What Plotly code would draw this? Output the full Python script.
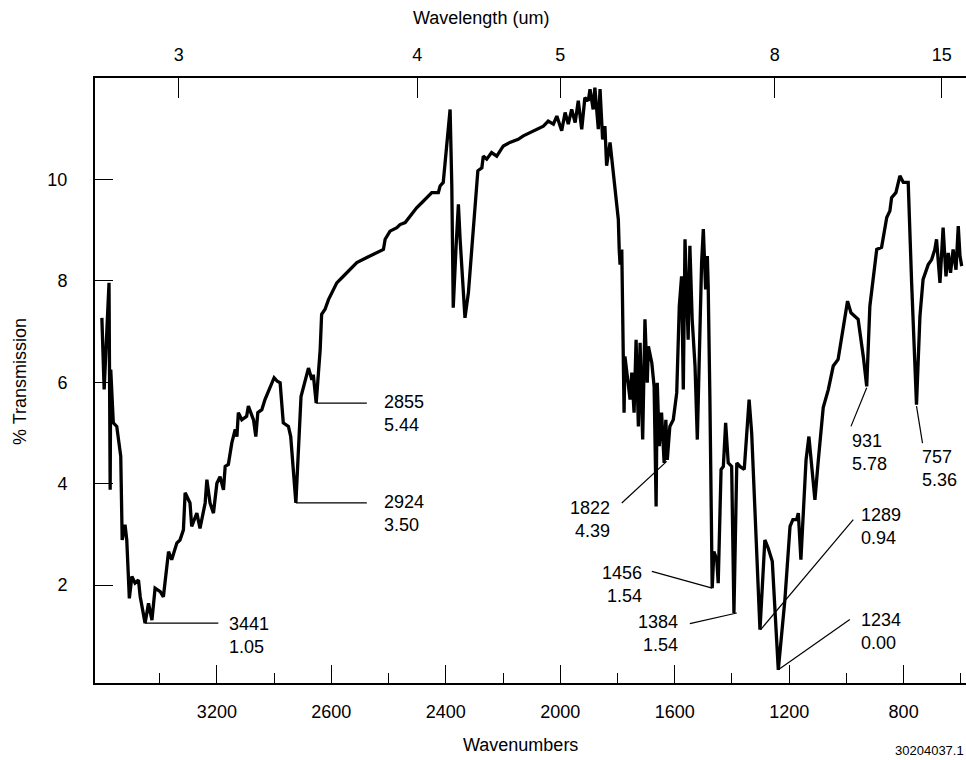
import plotly.graph_objects as go

# ---- spectrum data (wavenumber cm-1, % transmission) ----
wavenumber = [
    3602, 3594, 3577, 3573, 3571, 3562, 3550, 3536, 3531, 3521,
    3515, 3506, 3497, 3486, 3474, 3468, 3451, 3439, 3427, 3416,
    3398, 3387, 3369, 3358, 3340, 3329, 3317, 3311, 3294, 3288,
    3270, 3259, 3241, 3235, 3224, 3212, 3200, 3189, 3177, 3171,
    3160, 3148, 3136, 3130, 3125, 3113, 3096, 3090, 3072, 3064,
    3057, 3043, 3032, 3020, 3008, 3000, 2989, 2979, 2968, 2950,
    2942, 2924, 2906, 2892, 2880, 2868, 2863, 2853, 2839, 2834,
    2822, 2810, 2793, 2781, 2758, 2735, 2711, 2676, 2641, 2618,
    2612, 2595, 2571, 2560, 2542, 2525, 2502, 2484, 2467, 2449,
    2426, 2420, 2409, 2397, 2385, 2379, 2374, 2364, 2356, 2350,
    2333, 2321, 2304, 2288, 2274, 2269, 2257, 2240, 2222, 2199,
    2176, 2164, 2147, 2129, 2106, 2082, 2059, 2042, 2024, 2012,
    1995, 1983, 1972, 1960, 1948, 1937, 1925, 1914, 1902, 1896,
    1885, 1879, 1867, 1861, 1852, 1844, 1838, 1826, 1815, 1803,
    1797, 1794, 1791, 1785, 1780, 1777, 1774, 1762, 1756, 1750,
    1742, 1735, 1727, 1721, 1712, 1704, 1696, 1692, 1680, 1672,
    1665, 1661, 1654, 1646, 1637, 1631, 1626, 1617, 1605, 1593,
    1584, 1576, 1570, 1564, 1558, 1553, 1547, 1539, 1529, 1521,
    1512, 1506, 1500, 1492, 1486, 1483, 1477, 1471, 1469, 1463,
    1453, 1448, 1438, 1430, 1422, 1413, 1401, 1393, 1383, 1372,
    1357, 1340, 1331, 1302, 1285, 1274, 1259, 1238, 1215, 1197,
    1187, 1174, 1168, 1159, 1151, 1141, 1131, 1110, 1098, 1081,
    1063, 1046, 1029, 1011, 996, 984, 959, 941, 929, 918,
    906, 894, 877, 859, 848, 842, 827, 813, 801, 784,
    772, 761, 755, 743, 732, 714, 702, 691, 685, 673,
    662, 652, 644, 636, 627, 617, 609, 603, 597,
]
transmission = [
    7.27, 5.86, 7.96, 3.88, 6.25, 5.20, 5.13, 4.54, 2.89, 3.19,
    2.89, 1.74, 2.17, 2.04, 2.10, 1.77, 1.25, 1.64, 1.31, 1.94,
    1.87, 1.77, 2.66, 2.50, 2.83, 2.89, 3.09, 3.82, 3.62, 3.16,
    3.42, 3.12, 3.62, 4.08, 3.62, 3.42, 4.01, 4.14, 3.88, 4.34,
    4.38, 4.80, 5.07, 4.93, 5.40, 5.26, 5.33, 5.53, 5.26, 4.93,
    5.40, 5.46, 5.66, 5.82, 5.99, 6.09, 6.02, 5.99, 5.20, 5.13,
    4.93, 3.62, 5.72, 5.99, 6.28, 6.05, 6.15, 5.59, 6.65, 7.34,
    7.44, 7.63, 7.83, 7.96, 8.09, 8.22, 8.36, 8.46, 8.55, 8.62,
    8.82, 8.98, 9.05, 9.11, 9.15, 9.28, 9.44, 9.54, 9.64, 9.74,
    9.74, 9.87, 9.94, 10.59, 11.38, 9.87, 7.47, 8.69, 9.51, 8.82,
    7.27, 7.77, 9.08, 10.17, 10.23, 10.46, 10.40, 10.53, 10.46, 10.66,
    10.73, 10.76, 10.79, 10.86, 10.92, 10.99, 11.05, 11.15, 11.09, 11.25,
    10.96, 11.32, 11.09, 11.38, 11.12, 11.55, 10.99, 11.61, 11.55, 11.78,
    11.38, 11.81, 10.99, 11.78, 10.79, 11.05, 10.27, 10.73, 10.13, 9.61,
    9.21, 8.62, 8.32, 8.62, 6.51, 5.40, 6.51, 5.92, 5.66, 6.19,
    5.40, 6.84, 5.13, 6.78, 4.87, 7.24, 5.99, 6.71, 6.38, 5.92,
    3.55, 5.99, 4.74, 5.40, 4.41, 5.26, 4.47, 5.13, 5.26, 5.79,
    7.50, 8.09, 5.86, 8.82, 7.44, 6.84, 8.69, 7.24, 6.32, 4.87,
    6.98, 8.36, 9.02, 7.83, 8.49, 7.90, 5.66, 2.70, 1.94, 2.66,
    2.50, 2.04, 4.28, 4.34, 5.20, 4.41, 4.34, 1.45, 4.41, 4.34,
    4.28, 5.66, 5.00, 1.12, 2.89, 2.74, 2.47, 0.33, 1.71, 3.16,
    3.29, 3.29, 3.42, 2.50, 3.42, 4.47, 4.93, 3.68, 4.47, 5.50,
    5.86, 6.32, 6.45, 7.11, 7.60, 7.37, 7.24, 6.51, 5.92, 7.50,
    8.09, 8.62, 8.66, 9.25, 9.38, 9.64, 9.74, 10.07, 9.94, 9.94,
    7.96, 6.51, 5.56, 7.30, 8.03, 8.32, 8.42, 8.62, 8.82, 7.96,
    9.05, 8.09, 8.55, 8.16, 8.62, 8.22, 9.08, 8.49, 8.29,
]
assert len(wavenumber) == len(transmission)

# ---- axis tick labels ----
bottom_tick_vals = [3200, 2800, 2400, 2000, 1600, 1200, 800]
bottom_tick_text = ["3200", "2600", "2400", "2000", "1600", "1200", "800"]
bottom_minor_vals = [3400, 3000, 2600, 2200, 1800, 1400, 1000, 600]
top_wavelengths = [3, 4, 5, 8, 15]
y_tick_vals = [2, 4, 6, 8, 10]

# ---- peak callouts ----
peak_wn_labels = ["3441", "2924", "2855", "1822", "1456", "1384", "1289", "1234", "931", "757"]
peak_t_labels = ["1.05", "3.50", "5.44", "4.39", "1.54", "1.54", "0.94", "0.00", "5.78", "5.36"]
# layout of each callout: tip (on trace), leader end, text anchor, side
callout_layout = [
    ((3451, 1.25), (3195, 1.25), (3164, 1.00), "left"),
    ((2924, 3.62), (2676, 3.62), (2624, 3.41), "left"),
    ((2853, 5.59), (2676, 5.59), (2624, 5.38), "left"),
    ((1628, 4.44), (1785, 3.62), (1820, 3.29), "right"),
    ((1469, 1.94), (1680, 2.27), (1708, 2.02), "right"),
    ((1383, 1.45), (1547, 1.24), (1582, 1.04), "right"),
    ((1300, 1.12), (976, 3.29), (955, 3.16), "left"),
    ((1238, 0.33), (988, 1.32), (955, 1.09), "left"),
    ((929, 5.89), (984, 5.13), (988, 4.61), "left"),
    ((755, 5.53), (734, 4.80), (743, 4.30), "left"),
]

X_RANGE = [3626, 582]
Y_RANGE = [0.07, 12.0]
FONT = "Liberation Sans, Arial, Helvetica, sans-serif"

fig = go.Figure()

fig.add_trace(go.Scatter(
    x=wavenumber, y=transmission, mode="lines",
    line=dict(color="black", width=3.3), showlegend=False, hoverinfo="skip",
))

# leader lines
lx, ly = [], []
for tip, end, _, _ in callout_layout:
    lx += [tip[0], end[0], None]
    ly += [tip[1], end[1], None]
fig.add_trace(go.Scatter(x=lx, y=ly, mode="lines",
                         line=dict(color="black", width=1.2),
                         showlegend=False, hoverinfo="skip"))

# invisible trace to activate top axis
fig.add_trace(go.Scatter(x=[X_RANGE[0]], y=[Y_RANGE[0]], xaxis="x2",
                         mode="markers", marker=dict(opacity=0),
                         showlegend=False, hoverinfo="skip"))

annotations = []
for wl, tl, (tip, end, txt, side) in zip(peak_wn_labels, peak_t_labels, callout_layout):
    annotations.append(dict(
        x=txt[0], y=txt[1], xref="x", yref="y",
        text=f"{wl}<br>{tl}", showarrow=False,
        xanchor=side, yanchor="middle", align=side,
        font=dict(family=FONT, size=18, color="black"),
    ))

annotations += [
    dict(x=0.443, y=1.099, xref="paper", yref="paper", text="Wavelength (um)",
         showarrow=False, xanchor="center", yanchor="middle",
         font=dict(family=FONT, size=18, color="black")),
    dict(x=0.488, y=-0.103, xref="paper", yref="paper", text="Wavenumbers",
         showarrow=False, xanchor="center", yanchor="middle",
         font=dict(family=FONT, size=18, color="black")),
    dict(x=-0.0861, y=0.4975, xref="paper", yref="paper", text="% Transmission",
         showarrow=False, xanchor="center", yanchor="middle", textangle=-90,
         font=dict(family=FONT, size=18, color="black")),
    dict(x=1.0, y=-0.1265, xref="paper", yref="paper", text="30204037.1",
         showarrow=False, xanchor="right", yanchor="bottom",
         font=dict(family=FONT, size=13, color="black")),
]

axis_common = dict(showgrid=False, zeroline=False, showline=True,
                   linecolor="black", linewidth=2, ticks="inside",
                   tickcolor="black", tickwidth=1.2,
                   tickfont=dict(family=FONT, size=18, color="black"))

fig.update_layout(
    width=966, height=760,
    margin=dict(l=95, r=0, t=78, b=77),
    paper_bgcolor="white", plot_bgcolor="white",
    font=dict(family=FONT, size=18, color="black"),
    xaxis=dict(range=X_RANGE, tickmode="array", tickvals=bottom_tick_vals,
               ticktext=bottom_tick_text, ticklen=18, ticklabelstandoff=11,
               minor=dict(tickmode="array", tickvals=bottom_minor_vals,
                          ticklen=10, ticks="inside", tickcolor="black", tickwidth=1.2),
               **axis_common),
    xaxis2=dict(range=X_RANGE, overlaying="x", side="top", tickmode="array",
                tickvals=[10000.0 / w for w in top_wavelengths],
                ticktext=[str(w) for w in top_wavelengths],
                ticklen=20, ticklabelstandoff=8, **axis_common),
    yaxis=dict(range=Y_RANGE, tickmode="array", tickvals=y_tick_vals,
               ticklen=18, ticklabelstandoff=22, **axis_common),
    annotations=annotations,
)

fig.write_html("out.html")
